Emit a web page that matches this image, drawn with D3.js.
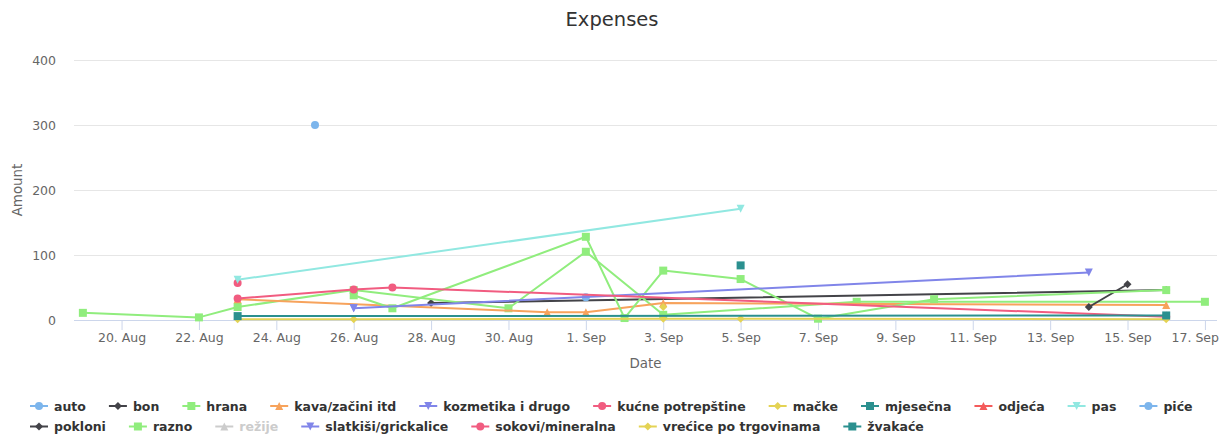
<!DOCTYPE html>
<html>
<head>
<meta charset="utf-8">
<script src="https://cdn.jsdelivr.net/npm/d3@7"></script>
<style>
  html, body { margin: 0; padding: 0; background: #fff; }
  svg { display: block; font-family: "DejaVu Sans", sans-serif; }
</style>
</head>
<body>
<svg id="chart" width="1225" height="437"></svg>
<script>
// Expense categories, in legend order
const seriesNames = [
  "auto", "bon", "hrana", "kava/začini itd", "kozmetika i drugo",
  "kućne potrepštine", "mačke", "mjesečna", "odjeća", "pas", "piće",
  "pokloni", "razno", "režije", "slatkiši/grickalice", "sokovi/mineralna",
  "vrećice po trgovinama", "žvakaće"
];

// Series values: [date, amount]
const autoData = [["2019-08-25", 300]];
const bonData = [["2019-08-28", 26], ["2019-09-16", 46]];
const hranaData = [["2019-08-19", 11], ["2019-08-22", 4], ["2019-08-23", 20], ["2019-08-26", 46],
  ["2019-08-30", 18], ["2019-09-01", 105], ["2019-09-03", 8], ["2019-09-08", 28], ["2019-09-17", 28]];
const kavaData = [["2019-08-23", 32], ["2019-08-31", 12], ["2019-09-01", 12], ["2019-09-03", 26], ["2019-09-16", 23]];
const kozmetikaData = [["2019-08-26", 18]];
const kucneData = [["2019-08-23", 57]];
const mackeData = [["2019-09-03", 20]];
const mjesecnaData = [["2019-09-05", 84]];
const odjecaData = [["2019-09-16", 7]];
const pasData = [["2019-08-23", 62], ["2019-09-05", 171]];
const piceData = [["2019-09-01", 35]];
const pokloniData = [["2019-09-14", 20], ["2019-09-15", 55]];
const raznoData = [["2019-08-26", 38], ["2019-08-27", 18], ["2019-09-01", 128], ["2019-09-02", 3],
  ["2019-09-03", 76], ["2019-09-05", 63], ["2019-09-07", 2], ["2019-09-10", 32], ["2019-09-16", 46]];
const rezijeData = [];
const slatkisiData = [["2019-08-26", 18], ["2019-09-14", 73]];
const sokoviData = [["2019-08-23", 33], ["2019-08-26", 47], ["2019-08-27", 50], ["2019-09-16", 5]];
const vreciceData = [["2019-08-23", 1], ["2019-08-26", 1], ["2019-09-03", 2], ["2019-09-05", 2], ["2019-09-16", 1]];
const zvakaceData = [["2019-08-23", 6], ["2019-09-16", 7]];

const seriesData = [autoData, bonData, hranaData, kavaData, kozmetikaData, kucneData, mackeData,
  mjesecnaData, odjecaData, pasData, piceData, pokloniData, raznoData, rezijeData, slatkisiData,
  sokoviData, vreciceData, zvakaceData];
const hiddenSeries = ["režije"];

// Axis ticks
const xTickDates = ["2019-08-20", "2019-08-22", "2019-08-24", "2019-08-26", "2019-08-28", "2019-08-30",
  "2019-09-01", "2019-09-03", "2019-09-05", "2019-09-07", "2019-09-09", "2019-09-11",
  "2019-09-13", "2019-09-15", "2019-09-17"];
const yTicks = [0, 100, 200, 300, 400];
const monthNames = ["Jan", "Feb", "Mar", "Apr", "May", "Jun", "Jul", "Aug", "Sep", "Oct", "Nov", "Dec"];

const palette = ["#7cb5ec", "#434348", "#90ed7d", "#f7a35c", "#8085e9",
  "#f15c80", "#e4d354", "#2b908f", "#f45b5b", "#91e8e1"];
const symbolCycle = ["circle", "diamond", "square", "triangle", "triangle-down"];

const W = 1225;
const parse = d3.utcParse("%Y-%m-%d");
const svg = d3.select("#chart");

const plot = { left: 74, right: 1217, top: 60, bottom: 320 };
const x = d3.scaleUtc()
  .domain([new Date(Date.UTC(2019, 7, 18, 18, 30)), new Date(Date.UTC(2019, 8, 17, 7, 30))])
  .range([plot.left, plot.right]);
const y = d3.scaleLinear().domain([0, 400]).range([plot.bottom, plot.top]);

function markerPath(type, r) {
  switch (type) {
    case "circle": return `M${-r},0A${r},${r} 0 1,1 ${r},0A${r},${r} 0 1,1 ${-r},0Z`;
    case "square": return `M${-r},${-r}H${r}V${r}H${-r}Z`;
    case "triangle": return `M0,${-r}L${r},${r}L${-r},${r}Z`;
    case "triangle-down": return `M${-r},${-r}L${r},${-r}L0,${r}Z`;
    case "diamond": return `M0,${-r}L${r},0L0,${r}L${-r},0Z`;
  }
}

// Title
svg.append("text")
  .attr("x", 612).attr("y", 26)
  .attr("text-anchor", "middle")
  .attr("fill", "#333333")
  .style("font-size", "19.5px")
  .text("Expenses");

// Horizontal grid lines and y labels
const yAxis = d3.axisLeft(y).tickValues(yTicks).tickSize(0).tickPadding(0);
const gy = svg.append("g").attr("transform", `translate(${plot.left},0)`).call(yAxis);
gy.select(".domain").remove();
gy.selectAll(".tick line")
  .attr("x2", plot.right - plot.left)
  .attr("stroke", "#e6e6e6");
gy.selectAll(".tick text")
  .attr("x", -18).attr("dy", "0.36em")
  .attr("fill", "#666666")
  .style("font-size", "12.5px")
  .style("font-family", "DejaVu Sans, sans-serif");

// X axis with tick marks below the line
const xAxis = d3.axisBottom(x)
  .tickValues(xTickDates.map(parse))
  .tickSize(10).tickPadding(0)
  .tickFormat(d => `${d.getUTCDate()}. ${monthNames[d.getUTCMonth()]}`);
const gx = svg.append("g").attr("transform", `translate(0,${plot.bottom})`).call(xAxis);
gx.select(".domain").attr("stroke", "#ccd6eb").attr("d", `M${plot.left},0.5H${plot.right}`);
gx.selectAll(".tick line").attr("stroke", "#ccd6eb");
gx.selectAll(".tick text")
  .attr("y", 22).attr("dy", 0)
  .attr("fill", "#666666")
  .style("font-size", "12.5px")
  .style("font-family", "DejaVu Sans, sans-serif");
// keep the last label inside the chart edge
gx.selectAll(".tick").each(function () {
  const tick = d3.select(this);
  const tx = +tick.attr("transform").match(/translate\(([-\d.]+)/)[1];
  const txt = tick.select("text");
  const half = txt.node().getComputedTextLength() / 2;
  const overflow = tx + half - (W - 6);
  if (overflow > 0) txt.attr("x", -overflow);
});

// Axis titles
svg.append("text")
  .attr("transform", `translate(22,190) rotate(-90)`)
  .attr("text-anchor", "middle")
  .attr("fill", "#666666")
  .style("font-size", "13.4px")
  .text("Amount");
svg.append("text")
  .attr("x", (plot.left + plot.right) / 2).attr("y", 368)
  .attr("text-anchor", "middle")
  .attr("fill", "#666666")
  .style("font-size", "13.4px")
  .text("Date");

// Series: line then markers, in series order
const line = d3.line().x(d => x(parse(d[0]))).y(d => y(d[1]));
const seriesLayer = svg.append("g");
seriesNames.forEach((name, i) => {
  if (hiddenSeries.includes(name)) return;
  const data = seriesData[i];
  const color = palette[i % palette.length];
  const sym = symbolCycle[i % symbolCycle.length];
  const g = seriesLayer.append("g");
  if (data.length > 1) {
    g.append("path")
      .attr("d", line(data))
      .attr("fill", "none")
      .attr("stroke", color)
      .attr("stroke-width", 2)
      .attr("stroke-linejoin", "round")
      .attr("stroke-linecap", "round");
  }
  g.selectAll("path.marker").data(data).join("path")
    .attr("class", "marker")
    .attr("transform", d => `translate(${x(parse(d[0]))},${y(d[1])})`)
    .attr("d", markerPath(sym, 4))
    .attr("fill", color);
});

// Legend, flowing left to right and wrapping
const legend = svg.append("g");
const symW = 18, symPad = 6, itemGap = 23;
const legendLeft = 30, maxRight = 1200;
const rowBase = [410.5, 431];
let lx = legendLeft, row = 0;
seriesNames.forEach((name, i) => {
  const hidden = hiddenSeries.includes(name);
  const color = hidden ? "#cccccc" : palette[i % palette.length];
  const textColor = hidden ? "#cccccc" : "#333333";
  const sym = symbolCycle[i % symbolCycle.length];
  const item = legend.append("g");
  const t = item.append("text")
    .attr("x", symW + symPad)
    .attr("fill", textColor)
    .style("font-size", "12.5px")
    .style("font-weight", "bold")
    .text(name);
  const w = t.node().getComputedTextLength();
  if (lx + symW + symPad + w > maxRight && lx > legendLeft) { lx = legendLeft; row += 1; }
  item.attr("transform", `translate(${lx},${rowBase[row]})`);
  item.append("path")
    .attr("d", `M0,-4.5H${symW}`)
    .attr("stroke", color)
    .attr("stroke-width", 2);
  item.append("path")
    .attr("transform", `translate(${symW / 2},-4.5)`)
    .attr("d", markerPath(sym, 4))
    .attr("fill", color);
  lx += symW + symPad + w + itemGap;
});
</script>
</body>
</html>
